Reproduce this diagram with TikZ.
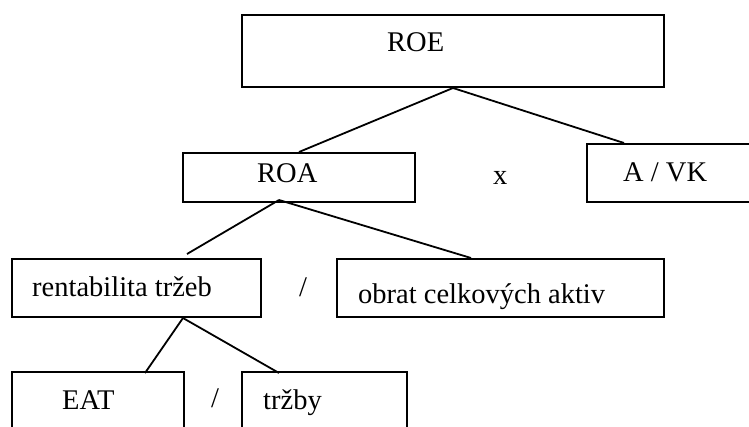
\documentclass[tikz,border=0pt]{standalone}
\usepackage{fontspec}
\setmainfont{Liberation Serif}
\usetikzlibrary{calc}
\begin{document}
\begin{tikzpicture}[x=1pt,y=-1pt,
  box/.style={draw, line width=2pt, inner sep=0pt, rectangle},
  lbl/.style={inner sep=0pt, anchor=base west, font=\fontsize{28.5}{34}\selectfont},
  link/.style={line width=1.8pt}]
\useasboundingbox (0,0) rectangle (749,427);
\clip (0,0) rectangle (749,427);
% boxes
\node[box, minimum width=422pt, minimum height=72pt] (roe) at (453,51) {};
\node[box, minimum width=232pt, minimum height=49pt] (roa) at (299,177.5) {};
\node[box, minimum width=173pt, minimum height=58pt] (avk) at (673.5,173) {};
\node[box, minimum width=249pt, minimum height=58pt] (rent) at (136.5,288) {};
\node[box, minimum width=327pt, minimum height=58pt] (obrat) at (500.5,288) {};
\node[box, minimum width=172pt, minimum height=68pt] (eat) at (98,406) {};
\node[box, minimum width=165pt, minimum height=68pt] (trzby) at (324.5,406) {};
% labels
\node[lbl] (troe) at (387,52) {ROE};
\node[lbl] (troa) at (257,183) {ROA};
\node[lbl] (tx) at (493,185) {x};
\node[lbl] (tavk) at (623,182) {A / VK};
\node[lbl] (trent) at (32,297) {rentabilita tržeb};
\node[lbl] (tdiv1) at (299,297) {/};
\node[lbl] (tobrat) at (358,304) {obrat celkových aktiv};
\node[lbl] (teat) at (62,409) {EAT};
\node[lbl] (tdiv2) at (211,407) {/};
\node[lbl] (ttrzby) at (263,409) {tržby};
% connector points
\coordinate (avkTop) at ($(avk.north west)+(38,0)$);
\coordinate (roaApex) at ($(roa.south west)+(97,-3)$);
\coordinate (rentTop) at ($(rent.north west)+(176,-4)$);
\coordinate (obratTop) at ($(obrat.north west)+(135,0)$);
\coordinate (rentApex) at ($(rent.south west)+(172,0)$);
\coordinate (eatTop) at ($(eat.north west)+(134,2)$);
\coordinate (trzbyTop) at ($(trzby.north west)+(38,2)$);
% connectors
\draw[link] (roe.south) -- (roa.north);
\draw[link] (roe.south) -- (avkTop);
\draw[link] (roaApex) -- (rentTop);
\draw[link] (roaApex) -- (obratTop);
\draw[link] (rentApex) -- (eatTop);
\draw[link] (rentApex) -- (trzbyTop);
\end{tikzpicture}
\end{document}
